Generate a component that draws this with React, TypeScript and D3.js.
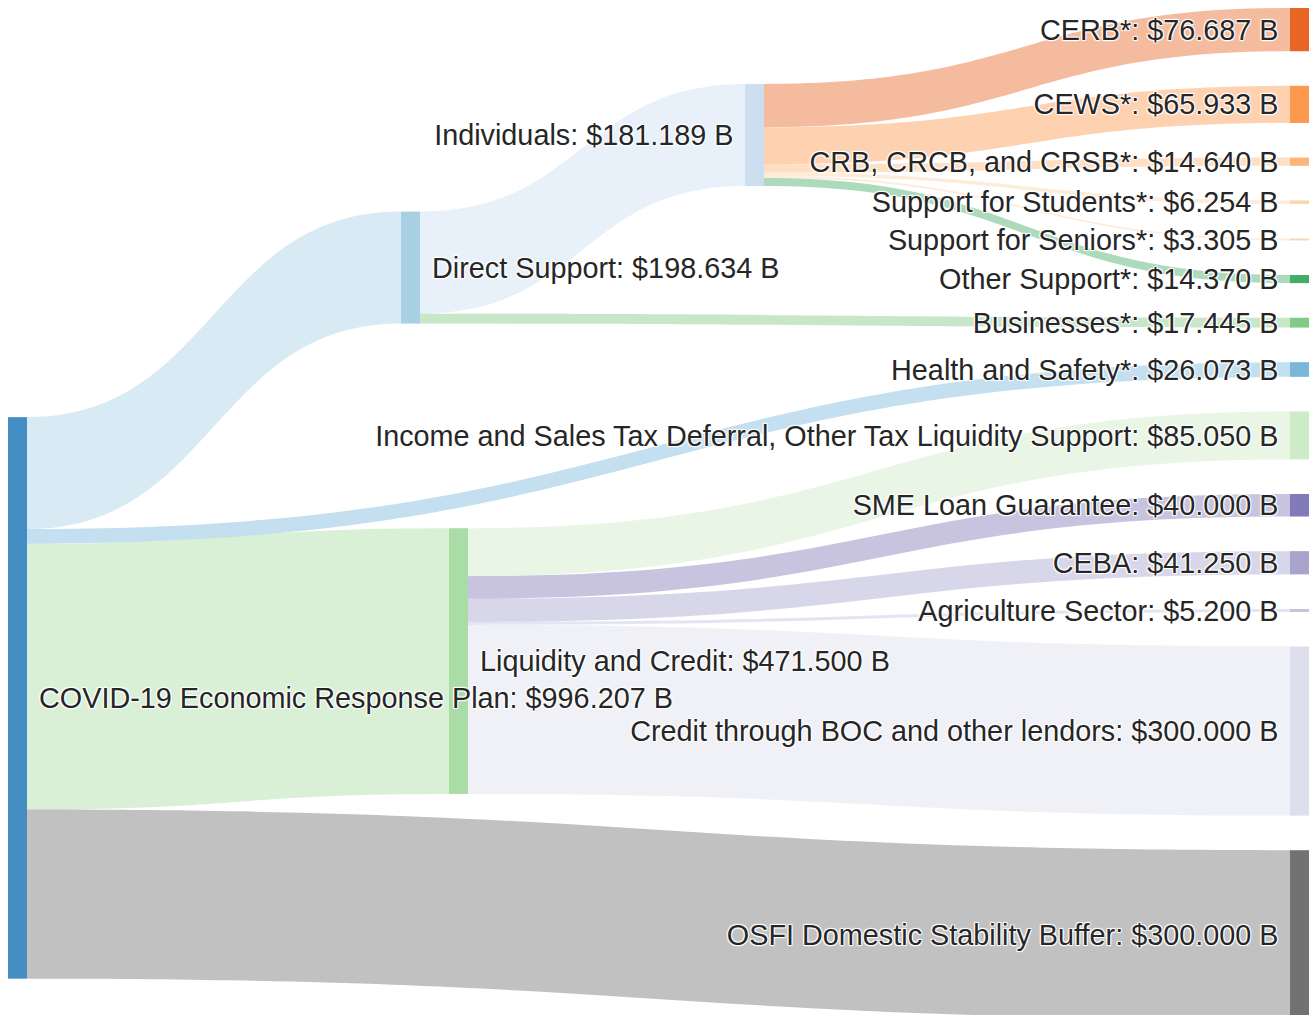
import React from "react";
import * as d3 from "d3";

// ---------- data ----------
const nodeNames = [
  "COVID-19 Economic Response Plan",
  "Direct Support",
  "Individuals",
  "CERB*",
  "CEWS*",
  "CRB, CRCB, and CRSB*",
  "Support for Students*",
  "Support for Seniors*",
  "Other Support*",
  "Businesses*",
  "Health and Safety*",
  "Liquidity and Credit",
  "Income and Sales Tax Deferral, Other Tax Liquidity Support",
  "SME Loan Guarantee",
  "CEBA",
  "Agriculture Sector",
  "Credit through BOC and other lendors",
  "OSFI Domestic Stability Buffer",
];

const nodeColors = [
  "#3182bd", "#9ecae1", "#c6dbef", "#e6550d", "#fd8d3c", "#fdae6b",
  "#fdd0a2", "#fdd0a2", "#31a354", "#74c476", "#6baed6", "#a1d99b",
  "#c7e9c0", "#756bb1", "#9e9ac8", "#bcbddc", "#dadaeb", "#636363",
];

const linkSource = [0, 0, 0, 0, 1, 1, 2, 2, 2, 2, 2, 2, 11, 11, 11, 11, 11];
const linkTarget = [1, 10, 11, 17, 2, 9, 3, 4, 5, 6, 7, 8, 12, 13, 14, 15, 16];
const linkValue = [
  198.634, 26.073, 471.5, 300.0, 181.189, 17.445, 76.687, 65.933, 14.64,
  6.254, 3.305, 14.37, 85.05, 40.0, 41.25, 5.2, 300.0,
];

// ---------- layout parameters (like plotly node.x / node.y) ----------
const nodeColumn = [0, 0.3066, 0.5749, 1, 1, 1, 1, 1, 1, 1, 1, 0.344, 1, 1, 1, 1, 1, 1];
const nodeCenter: (number | null)[] = [
  0.6822, 0.2567, 0.1256, null, null, null, null, null, null, null, null,
  0.6458, null, null, null, null, null, null,
];

const W = 1302;
const H = 1007;
const extentH = 1011.3;
const nodeWidth = 19;
const nodePad = 34.6;
const fontSize = 28.8;
const gapStart = 12;
const gapEnd = 11.5;

export default function App() {
  const n = nodeNames.length;
  const inSum = new Array(n).fill(0);
  const outSum = new Array(n).fill(0);
  linkValue.forEach((v, i) => {
    outSum[linkSource[i]] += v;
    inSum[linkTarget[i]] += v;
  });
  const value = d3.range(n).map((i) => Math.max(inSum[i], outSum[i]));
  const leaves = d3.range(n).filter((i) => outSum[i] === 0);
  const k =
    (extentH - (leaves.length - 1) * nodePad) / d3.sum(leaves, (i) => value[i]);

  const x = d3.scaleLinear().domain([0, 1]).range([0, W - 1 - nodeWidth]);
  const y = d3.scaleLinear().domain([0, 1]).range([0, extentH]);

  const nodes = d3.range(n).map((i) => ({
    i,
    x0: x(nodeColumn[i]),
    x1: x(nodeColumn[i]) + nodeWidth,
    y0: 0,
    y1: 0,
    h: value[i] * k,
  }));
  let acc = 0;
  leaves.forEach((i) => {
    nodes[i].y0 = acc;
    nodes[i].y1 = acc + nodes[i].h;
    acc += nodes[i].h + nodePad;
  });
  d3.range(n).forEach((i) => {
    const c = nodeCenter[i];
    if (c != null) {
      nodes[i].y0 = y(c) - nodes[i].h / 2;
      nodes[i].y1 = y(c) + nodes[i].h / 2;
    }
  });

  const links = linkValue.map((v, i) => ({
    s: linkSource[i],
    t: linkTarget[i],
    v,
    w: v * k,
    sy: 0,
    ty: 0,
    idx: i,
  }));
  d3.range(n).forEach((ni) => {
    const out = links
      .filter((l) => l.s === ni)
      .sort((a, b) => nodes[a.t].y0 - nodes[b.t].y0);
    let o = nodes[ni].y0;
    out.forEach((l) => {
      l.sy = o;
      o += l.w;
    });
    const inc = links
      .filter((l) => l.t === ni)
      .sort((a, b) => nodes[a.s].y0 - nodes[b.s].y0);
    let o2 = nodes[ni].y0;
    inc.forEach((l) => {
      l.ty = o2;
      o2 += l.w;
    });
  });

  const linkPath = (l: any) => {
    const x0 = nodes[l.s].x1;
    const x1 = nodes[l.t].x0;
    const xi = d3.interpolateNumber(x0, x1);
    const c0 = xi(0.5);
    const c1 = xi(0.5);
    const p = d3.path();
    p.moveTo(x0, l.sy);
    p.bezierCurveTo(c0, l.sy, c1, l.ty, x1, l.ty);
    p.lineTo(x1, l.ty + l.w);
    p.bezierCurveTo(c1, l.ty + l.w, c0, l.sy + l.w, x0, l.sy + l.w);
    p.closePath();
    return p.toString();
  };

  const fmt = d3.format(".3f");
  const shadow =
    "1px 1px 1px #fff, 1px -1px 1px #fff, -1px 1px 1px #fff, -1px -1px 1px #fff";

  return (
    <div style={{ width: 1310, height: 1015, overflow: "hidden", position: "relative" }}>
      <style>{`html, body { margin: 0; padding: 0; overflow: hidden; }`}</style>
      <svg
        width={W}
        height={H}
        style={{
          display: "block",
          position: "absolute",
          left: 8,
          top: 8,
          fontFamily: "'Liberation Sans', Arial, sans-serif",
        }}
      >
        <g className="links">
          {links.map((l) => (
            <path
              key={l.idx}
              d={linkPath(l)}
              fill={nodeColors[l.t]}
              fillOpacity={0.4}
            />
          ))}
        </g>
        <g className="nodes">
          {nodes.map((nd) => (
            <rect
              key={nd.i}
              x={nd.x0}
              y={nd.y0}
              width={nodeWidth}
              height={Math.max(nd.h, 0.5)}
              fill={nodeColors[nd.i]}
              fillOpacity={0.9}
            />
          ))}
        </g>
        <g className="labels">
          {nodes.map((nd) => {
            const right = nodeColumn[nd.i] > 0.5;
            return (
              <text
                key={nd.i}
                x={right ? nd.x0 - gapEnd : nd.x1 + gapStart}
                y={(nd.y0 + nd.y1) / 2}
                dy="0.35em"
                textAnchor={right ? "end" : "start"}
                fontSize={fontSize}
                fill="#262626"
                style={{ textShadow: shadow }}
              >
                {`${nodeNames[nd.i]}: $${fmt(value[nd.i])} B`}
              </text>
            );
          })}
        </g>
      </svg>
    </div>
  );
}
